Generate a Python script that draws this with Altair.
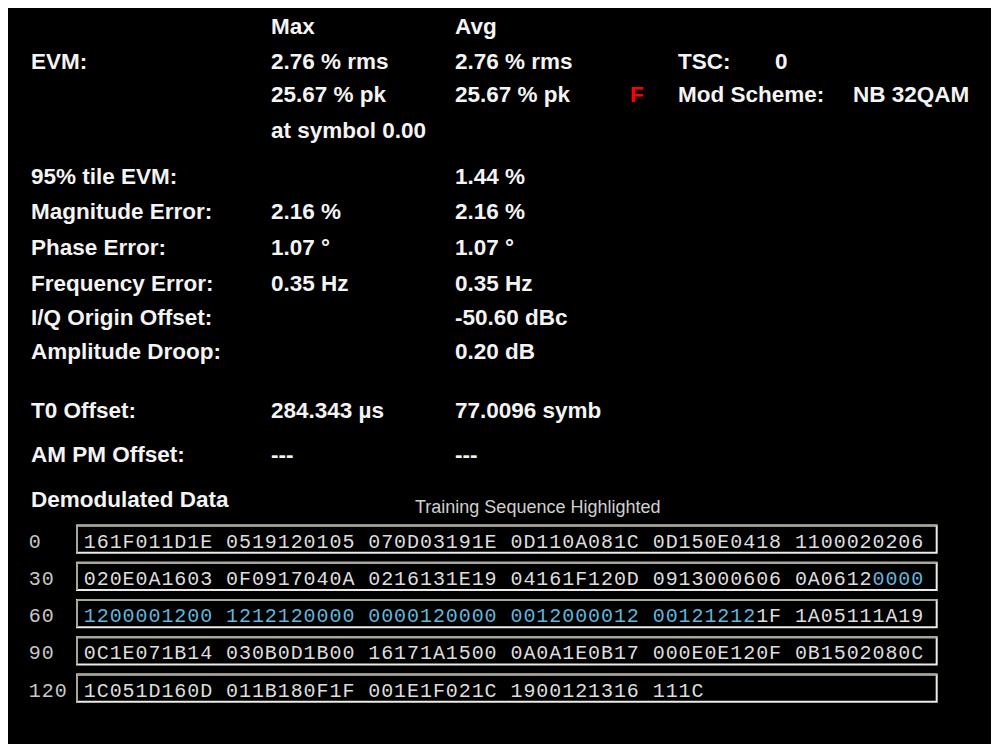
import altair as alt
import pandas as pd

# ---------------- data ----------------
headers = ["Max", "Avg"]
labels = ["EVM:", "95% tile EVM:", "Magnitude Error:", "Phase Error:", "Frequency Error:",
          "I/Q Origin Offset:", "Amplitude Droop:", "T0 Offset:", "AM PM Offset:", "Demodulated Data"]
label_lines = [1, 4, 5, 6, 7, 8, 9, 10, 11, 12]
max_values = ["2.76 % rms", "25.67 % pk", "at symbol 0.00", "2.16 %", "1.07 °", "0.35 Hz",
              "284.343 µs", "---"]
max_lines = [1, 2, 3, 5, 6, 7, 10, 11]
avg_values = ["2.76 % rms", "25.67 % pk", "1.44 %", "2.16 %", "1.07 °", "0.35 Hz",
              "-50.60 dBc", "0.20 dB", "77.0096 symb", "---"]
avg_lines = [1, 2, 4, 5, 6, 7, 8, 9, 10, 11]
side_texts = ["TSC:", "0", "Mod Scheme:", "NB 32QAM"]
side_cols = ["side_label", "tsc_value", "side_label", "mod_value"]
side_lines = [1, 1, 2, 2]
flag_text = "F"
note_text = "Training Sequence Highlighted"

row_offsets = ["0", "30", "60", "90", "120"]
hex_rows = [
    "161F011D1E 0519120105 070D03191E 0D110A081C 0D150E0418 1100020206",
    "020E0A1603 0F0917040A 0216131E19 04161F120D 0913000606 0A06120000",
    "1200001200 1212120000 0000120000 0012000012 001212121F 1A05111A19",
    "0C1E071B14 030B0D1B00 16171A1500 0A0A1E0B17 000E0E120F 0B1502080C",
    "1C051D160D 011B180F1F 001E1F021C 1900121316 111C",
]
# (row, first char, end char) of the highlighted training sequence
training_spans = [(1, 61, 65), (2, 0, 52)]

# ---------------- layout (scales) ----------------
W, H = 983, 736
COLS = ["label", "max", "note", "avg", "flag", "side_label", "tsc_value", "mod_value"]
COL_X = [23, 263, 407, 447, 622, 670, 767, 845]
LINE_Y = [19, 54, 87, 123, 169, 204, 240, 276, 310, 344, 403, 447, 492, 500]
CHAR_X = [81.8, 909.3]      # centre of char 0 and char 64
ROW_Y = [533.5, 682.5]      # centre of data row 0 and row 4
BOX_TOP, BOX_BOTTOM = -0.43, 0.30
BOX_LEFT, BOX_RIGHT = -0.99, 65.5
LABEL_COL0 = -4.25

# ---------------- tables ----------------
recs = []
for t in headers:
    recs.append(dict(text=t, col=COLS.index("max" if t == "Max" else "avg"), line=0, kind="plain"))
for t, l in zip(labels, label_lines):
    recs.append(dict(text=t, col=COLS.index("label"), line=l, kind="plain"))
for t, l in zip(max_values, max_lines):
    recs.append(dict(text=t, col=COLS.index("max"), line=l, kind="plain"))
for t, l in zip(avg_values, avg_lines):
    recs.append(dict(text=t, col=COLS.index("avg"), line=l, kind="plain"))
for t, c, l in zip(side_texts, side_cols, side_lines):
    recs.append(dict(text=t, col=COLS.index(c), line=l, kind="plain"))
recs.append(dict(text=flag_text, col=COLS.index("flag"), line=2, kind="flag"))
stats_df = pd.DataFrame(recs)
note_df = pd.DataFrame([dict(text=note_text, col=COLS.index("note"), line=13)])

chars = []
for r, s in enumerate(hex_rows):
    for c, ch in enumerate(s):
        if ch == " ":
            continue
        hl = any(r == rr and a <= c < b for rr, a, b in training_spans)
        chars.append(dict(row=r, col=c, ch=ch, kind="training" if hl else "data"))
chars_df = pd.DataFrame(chars)

lab = []
for r, s in enumerate(row_offsets):
    for i, ch in enumerate(s):
        lab.append(dict(row=r, col=LABEL_COL0 + i, ch=ch))
lab_df = pd.DataFrame(lab)

box_df = pd.DataFrame([dict(row=r, x0=BOX_LEFT, x1=BOX_RIGHT, y0=r + BOX_TOP, y1=r + BOX_BOTTOM)
                       for r in range(len(hex_rows))])

# ---------------- chart ----------------
xs = alt.Scale(domain=list(range(len(COLS))), range=COL_X, nice=False, zero=False)
ys = alt.Scale(domain=list(range(len(LINE_Y))), range=LINE_Y, nice=False, zero=False)
cx = alt.Scale(domain=[0, 64], range=CHAR_X, nice=False, zero=False)
ry = alt.Scale(domain=[0, 4], range=ROW_Y, nice=False, zero=False)

stats = alt.Chart(stats_df).mark_text(
    align="left", baseline="middle", font="Liberation Sans", fontWeight="bold", fontSize=22.5
).encode(
    x=alt.X("col:Q", scale=xs, axis=None),
    y=alt.Y("line:Q", scale=ys, axis=None),
    text="text:N",
    color=alt.Color("kind:N", scale=alt.Scale(domain=["plain", "flag"], range=["#f4f4f4", "#ff0000"]),
                    legend=None),
)

note = alt.Chart(note_df).mark_text(
    align="left", baseline="middle", font="Liberation Sans", fontSize=18, color="#d0d0d0"
).encode(
    x=alt.X("col:Q", scale=xs, axis=None),
    y=alt.Y("line:Q", scale=ys, axis=None),
    text="text:N",
)

# sunken-looking boxes: white frame, grey top and left edges
boxes = alt.Chart(box_df).mark_rect(fill="#000000", stroke="#ecebe6", strokeWidth=2).encode(
    x=alt.X("x0:Q", scale=cx, axis=None),
    x2="x1:Q",
    y=alt.Y("y0:Q", scale=ry, axis=None),
    y2="y1:Q",
)
box_top = alt.Chart(box_df).mark_rule(color="#a9a598", strokeWidth=2).encode(
    x=alt.X("x0:Q", scale=cx, axis=None),
    x2="x1:Q",
    y=alt.Y("y0:Q", scale=ry, axis=None),
)
box_left = alt.Chart(box_df).mark_rule(color="#a9a598", strokeWidth=2).encode(
    x=alt.X("x0:Q", scale=cx, axis=None),
    y=alt.Y("y0:Q", scale=ry, axis=None),
    y2="y1:Q",
)

hexchars = alt.Chart(chars_df).mark_text(
    align="center", baseline="middle", font="Liberation Mono", fontSize=20
).encode(
    x=alt.X("col:Q", scale=cx, axis=None),
    y=alt.Y("row:Q", scale=ry, axis=None),
    text="ch:N",
    color=alt.Color("kind:N", scale=alt.Scale(domain=["data", "training"], range=["#dedede", "#62b6dc"]),
                    legend=None),
)

rowlabels = alt.Chart(lab_df).mark_text(
    align="center", baseline="middle", font="Liberation Mono", fontSize=20, color="#c8c8c8"
).encode(
    x=alt.X("col:Q", scale=cx, axis=None),
    y=alt.Y("row:Q", scale=ry, axis=None),
    text="ch:N",
)

chart = alt.layer(stats, note, boxes, box_top, box_left, hexchars, rowlabels).resolve_scale(
    x="independent", y="independent", color="independent"
).properties(
    width=W, height=H, padding=0, autosize=alt.AutoSizeParams(type="none"), background="#000000"
).configure_view(stroke=None)

chart.save("out.html", embed_options={"renderer": "svg", "actions": False})
